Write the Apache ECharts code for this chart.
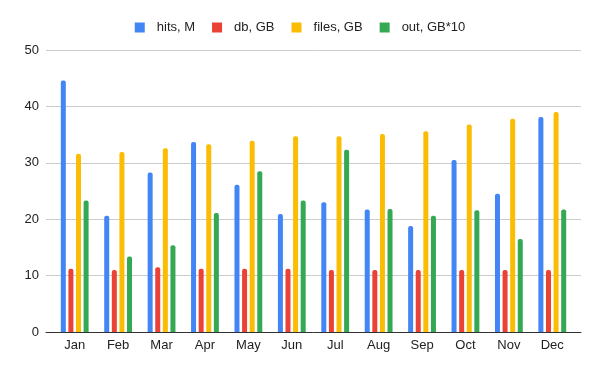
<!DOCTYPE html>
<html><head><meta charset="utf-8">
<script src="https://cdn.jsdelivr.net/npm/echarts@6/dist/echarts.min.js"></script>
<style>html,body{margin:0;padding:0;background:#fff}#c{width:600px;height:371px}</style>
</head><body><div id="c"></div>
<script>
const months = ['Jan','Feb','Mar','Apr','May','Jun','Jul','Aug','Sep','Oct','Nov','Dec'];
const hits = [44.6,20.6,28.3,33.7,26.1,20.9,23.0,21.7,18.8,30.5,24.5,38.1];
const db = [11.2,11.0,11.5,11.2,11.2,11.2,11.0,11.0,11.0,11.0,11.0,11.0];
const files = [31.6,31.9,32.6,33.3,33.9,34.7,34.7,35.1,35.6,36.8,37.8,39.0];
const out = [23.3,13.4,15.4,21.1,28.5,23.3,32.3,21.8,20.6,21.6,16.5,21.7];
const yTicks = [0,10,20,30,40,50];
const names = ['hits, M','db, GB','files, GB','out, GB*10'];
const colors = ['#4285F4','#EA4335','#FBBC04','#34A853'];
const seriesData = [hits, db, files, out];

const chart = echarts.init(document.getElementById('c'));
const font = 'Arial, "Liberation Sans", sans-serif';
chart.setOption({
  animation: false,
  color: colors,
  textStyle: {fontFamily: font},
  legend: {
    top: 16, left: 'center', itemWidth: 10, itemHeight: 10, itemGap: 17,
    icon: 'rect',
    textStyle: {fontSize: 13, color: '#222', fontFamily: font, padding: [0,0,0,7]},
    data: names
  },
  grid: [
    {left: 53, right: 26, top: 50, bottom: 39},
    {left: 46, right: 19, top: 50, bottom: 39}
  ],
  xAxis: [
    {type: 'category', gridIndex: 0, data: months,
     axisLine: {show: false}, axisTick: {show: false},
     axisLabel: {color: '#222', fontSize: 13, margin: 7, fontFamily: font}},
    {type: 'value', gridIndex: 1, min: 0, max: 1,
     axisLine: {show: true, onZero: false, lineStyle: {color: '#333', width: 1}},
     axisTick: {show: false}, axisLabel: {show: false}, splitLine: {show: false}}
  ],
  yAxis: [
    {type: 'value', gridIndex: 0, min: yTicks[0], max: yTicks[yTicks.length-1], interval: 10,
     axisLine: {show: false}, axisTick: {show: false}, axisLabel: {show: false}, splitLine: {show: false}},
    {type: 'value', gridIndex: 1, min: yTicks[0], max: yTicks[yTicks.length-1], interval: 10,
     axisLine: {show: false}, axisTick: {show: false},
     axisLabel: {color: '#222', fontSize: 13, margin: 7, fontFamily: font},
     splitLine: {lineStyle: {color: '#ccc', width: 1}}}
  ],
  series: names.map((n, i) => ({
    name: n, type: 'bar', xAxisIndex: 0, yAxisIndex: 0,
    data: seriesData[i], barWidth: 5, barGap: '52%',
    itemStyle: {borderRadius: [2,2,0,0]}
  }))
});
</script></body></html>
